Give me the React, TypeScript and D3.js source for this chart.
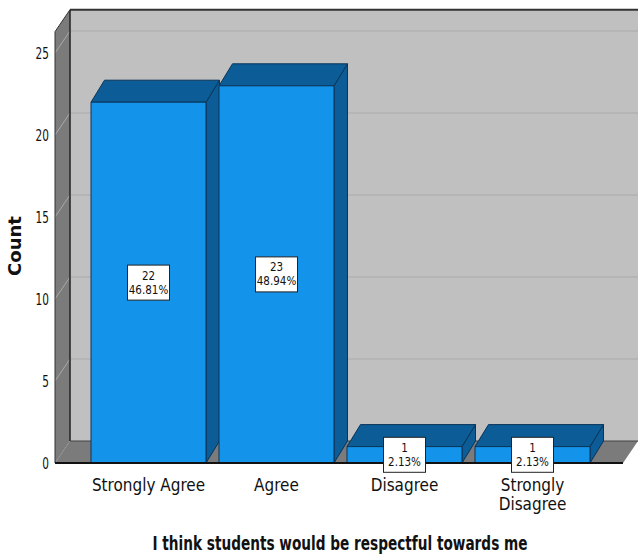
import React from "react";
import * as d3 from "d3";

const categories = ["Strongly Agree", "Agree", "Disagree", "Strongly Disagree"];
const counts = [22, 23, 1, 1];
const percents = ["46.81%", "48.94%", "2.13%", "2.13%"];
const yTicks = [0, 5, 10, 15, 20, 25];

const W = 638, H = 554;
const WDX = 15, WDY = 22; // wall depth
const BDX = 13.5, BDY = 22; // bar depth
const left = 55, right = 623, base = 463;
const FONT = "'DejaVu Sans Condensed', 'DejaVu Sans', sans-serif";

function T({ x, y, sx = 1, size, anchor = "middle", weight = "normal", children }: any) {
  return (
    <text transform={`translate(${x},${y}) scale(${sx},1)`} textAnchor={anchor} fontFamily={FONT} fontSize={size} fontWeight={weight} fill="#111">{children}</text>
  );
}

export default function App() {
  const y = d3.scaleLinear().domain([0, 25]).range([base, 53]);
  const x = d3.scaleBand<string>().domain(categories).range([84.5, 596.5]).paddingInner(13 / 128).paddingOuter(6.5 / 128);
  const topFront = y(26.3);
  const bw = x.bandwidth();
  return (
    <svg width={W} height={H} style={{ position: "absolute", left: 0, top: 0 }}>
      <rect width={W} height={H} fill="#fff" />
      {/* back wall */}
      <rect x={left + WDX} y={topFront - WDY} width={W - left - WDX} height={base - topFront} fill="#c0c0c0" />
      {/* side wall */}
      <polygon points={`${left},${topFront} ${left + WDX},${topFront - WDY} ${left + WDX},${base - WDY} ${left},${base}`} fill="#7b7b7b" />
      {/* floor */}
      <polygon points={`${left},${base} ${left + WDX},${base - WDY} ${right + WDX},${base - WDY} ${right},${base}`} fill="#7b7b7b" />
      {/* gridlines */}
      {yTicks.filter(t => t > 0).map(t => (
        <g key={t}>
          <line x1={left + WDX} x2={W} y1={y(t) - WDY} y2={y(t) - WDY} stroke="#b2b2b2" strokeWidth={1.5} />
          <line x1={left} x2={left + WDX} y1={y(t)} y2={y(t) - WDY} stroke="#a9a9a9" strokeWidth={1} />
        </g>
      ))}
      {/* wall edges */}
      <line x1={left + WDX} x2={W} y1={topFront - WDY} y2={topFront - WDY} stroke="#333" strokeWidth={2} />
      <line x1={left + WDX} x2={left + WDX} y1={topFront - WDY} y2={base - WDY} stroke="#222" strokeWidth={1.5} />
      <line x1={left + WDX} x2={W} y1={base - WDY} y2={base - WDY} stroke="#444" strokeWidth={1} />
      <line x1={left} x2={left + WDX} y1={topFront} y2={topFront - WDY} stroke="#333" strokeWidth={1} />
      <line x1={left} x2={left} y1={topFront} y2={base} stroke="#333" strokeWidth={1} />
      {/* bars */}
      {categories.map((c, i) => {
        const x0 = x(c)!;
        const x1 = x0 + bw;
        const yt = y(counts[i]);
        return (
          <g key={c} stroke="#0a3558" strokeWidth={1} strokeLinejoin="round">
            <polygon points={`${x1},${yt} ${x1 + BDX},${yt - BDY} ${x1 + BDX},${base - BDY} ${x1},${base}`} fill="#0b5c97" />
            <polygon points={`${x0},${yt} ${x0 + BDX},${yt - BDY} ${x1 + BDX},${yt - BDY} ${x1},${yt}`} fill="#0b5c97" />
            <rect x={x0} y={yt} width={bw} height={base - yt} fill="#1393e9" />
          </g>
        );
      })}
      {/* baseline */}
      <line x1={left} x2={right} y1={base} y2={base} stroke="#111" strokeWidth={2} />
      {/* value labels */}
      {categories.map((c, i) => {
        const cx = x(c)! + bw / 2;
        const cy = (y(counts[i]) + base) / 2;
        return (
          <g key={c}>
            <rect x={cx - 21} y={cy - 17.5} width={42} height={35} fill="#fff" stroke="#222" strokeWidth={1} />
            <T x={cx} y={cy - 3} size={12.5} sx={0.92}>{counts[i]}</T>
            <T x={cx} y={cy + 11} size={12.5} sx={0.92}>{percents[i]}</T>
          </g>
        );
      })}
      {/* y ticks */}
      {yTicks.map(t => (
        <T key={t} x={49} y={y(t) + 6} size={15} sx={0.78} anchor="end">{t}</T>
      ))}
      {/* category labels */}
      {categories.map(c => {
        const cx = x(c)! + bw / 2;
        const parts = c === "Strongly Disagree" ? ["Strongly", "Disagree"] : [c];
        return parts.map((p, j) => (
          <T key={c + j} x={cx} y={490.5 + j * 19.5} size={17.5} sx={0.97}>{p}</T>
        ));
      })}
      <text transform="translate(21,246) rotate(-90)" textAnchor="middle" fontFamily={FONT} fontWeight="bold" fontSize={18} textLength={60} lengthAdjust="spacingAndGlyphs" fill="#111">Count</text>
      <text x={340} y={550} textAnchor="middle" fontFamily={FONT} fontWeight="bold" fontSize={19} textLength={375} lengthAdjust="spacingAndGlyphs" fill="#111">I think students would be respectful towards me</text>
    </svg>
  );
}
